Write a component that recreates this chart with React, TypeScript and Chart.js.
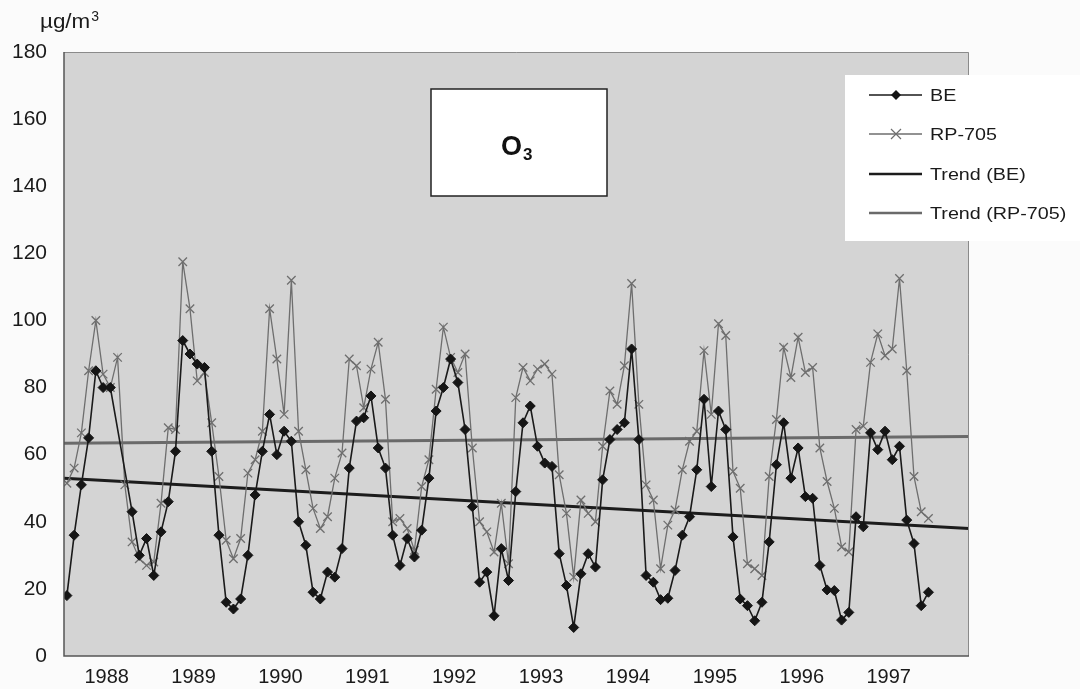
import React, { useEffect, useRef } from "react";
import { Chart, registerables } from "chart.js";

Chart.register(...registerables);

// ---- data ----
const yearLabels = ["1988", "1989", "1990", "1991", "1992", "1993", "1994", "1995", "1996", "1997"];

const beValues: (number | null)[] = [
  18, 36, 51, 65, 85, 80, 80, null, null, 43, 30, 35,
  24, 37, 46, 61, 94, 90, 87, 86, 61, 36, 16, 14,
  17, 30, 48, 61, 72, 60, 67, 64, 40, 33, 19, 17,
  25, 23.5, 32, 56, 70, 71, 77.5, 62, 56, 36, 27, 35,
  29.5, 37.5, 53, 73, 80, 88.5, 81.5, 67.5, 44.5, 22, 25, 12,
  32, 22.5, 49, 69.5, 74.5, 62.5, 57.5, 56.5, 30.5, 21, 8.5, 24.5,
  30.5, 26.5, 52.5, 64.5, 67.5, 69.5, 91.5, 64.5, 24, 22, 16.8, 17.2,
  25.5, 36, 41.5, 55.5, 76.5, 50.5, 73, 67.5, 35.5, 17, 15, 10.5,
  16, 34, 57, 69.5, 53, 62, 47.5, 47, 27, 19.7, 19.5, 10.7,
  13, 41.5, 38.5, 66.5, 61.5, 67, 58.5, 62.5, 40.5, 33.5, 15, 19,
];

const rpValues: number[] = [
  51.5, 56, 66.5, 85, 100, 84, 80, 89, 51, 34, 29, 27,
  28, 45.5, 68, 67.5, 117.5, 103.5, 82, 84.5, 69.5, 53.5, 34.5, 29,
  35, 54.5, 58.5, 67, 103.5, 88.5, 72, 112, 67, 55.5, 44, 38,
  41.5, 53, 60.5, 88.5, 86.5, 74, 85.5, 93.5, 76.5, 40, 41, 38,
  31.5, 50.5, 58.5, 79.5, 98, 89, 84.5, 90, 62, 40, 37, 31,
  45.5, 27.5, 77, 86, 82, 85.5, 87, 84, 54, 42.5, 23.5, 46.5,
  42.5, 40, 62.5, 79, 75, 86.5, 111, 75, 51, 46.5, 26, 39,
  43.5, 55.5, 64, 67, 91, 72, 99, 95.5, 55, 50, 27.5, 26,
  24, 53.5, 70.5, 92, 83, 95, 84.5, 86, 62, 52, 44, 32.5,
  31, 67.5, 68.5, 87.5, 96, 89.5, 91.5, 112.5, 85, 53.5, 43, 41,
];

// trend line end values (left edge, right edge of plot)
const trendBE = [53, 38];
const trendRP = [63.4, 65.4];

const X_MIN = -0.4;
const X_MAX = 124.6;

const FONT = "'Liberation Sans', Arial, Helvetica, sans-serif";

function drawDiamond(ctx: CanvasRenderingContext2D, x: number, y: number, r: number, color: string) {
  ctx.beginPath();
  ctx.moveTo(x, y - r);
  ctx.lineTo(x + r, y);
  ctx.lineTo(x, y + r);
  ctx.lineTo(x - r, y);
  ctx.closePath();
  ctx.fillStyle = color;
  ctx.fill();
}

function drawCross(ctx: CanvasRenderingContext2D, x: number, y: number, r: number, color: string, w: number) {
  ctx.beginPath();
  ctx.moveTo(x - r, y - r);
  ctx.lineTo(x + r, y + r);
  ctx.moveTo(x + r, y - r);
  ctx.lineTo(x - r, y + r);
  ctx.strokeStyle = color;
  ctx.lineWidth = w;
  ctx.stroke();
}

function scaledText(ctx: CanvasRenderingContext2D, text: string, x: number, y: number, sx: number) {
  ctx.save();
  ctx.translate(x, y);
  ctx.scale(sx, 1);
  ctx.fillText(text, 0, 0);
  ctx.restore();
}

const decorPlugin = {
  id: "decor",
  beforeDraw(chart: any) {
    const { ctx, chartArea: a } = chart;
    ctx.save();
    ctx.fillStyle = "#fbfbfb";
    ctx.fillRect(0, 0, chart.width, chart.height);
    ctx.fillStyle = "#d4d4d4";
    ctx.fillRect(a.left, a.top, a.right - a.left, a.bottom - a.top);
    ctx.restore();
  },
  afterDraw(chart: any) {
    const { ctx, chartArea: a } = chart;
    ctx.save();
    // plot frame
    ctx.strokeStyle = "#8a8a8a";
    ctx.lineWidth = 1;
    ctx.beginPath();
    ctx.moveTo(a.left, a.top + 0.5);
    ctx.lineTo(a.right - 0.5, a.top + 0.5);
    ctx.lineTo(a.right - 0.5, a.bottom);
    ctx.stroke();
    ctx.strokeStyle = "#555";
    ctx.lineWidth = 1.5;
    ctx.beginPath();
    ctx.moveTo(a.left, a.top);
    ctx.lineTo(a.left, a.bottom);
    ctx.lineTo(a.right, a.bottom);
    ctx.stroke();

    // unit label
    ctx.fillStyle = "#1a1a1a";
    ctx.textBaseline = "alphabetic";
    ctx.textAlign = "left";
    ctx.font = `20px ${FONT}`;
    scaledText(ctx, "µg/m", 40, 28, 1.12);
    const w = ctx.measureText("µg/m").width * 1.12;
    ctx.font = `14px ${FONT}`;
    ctx.fillText("3", 40 + w + 1, 21);

    // O3 box
    ctx.fillStyle = "#ffffff";
    ctx.fillRect(431, 89, 176, 107);
    ctx.strokeStyle = "#222";
    ctx.lineWidth = 1.5;
    ctx.strokeRect(431, 89, 176, 107);
    ctx.fillStyle = "#111";
    ctx.font = `bold 27px ${FONT}`;
    ctx.fillText("O", 501, 155);
    const ow = ctx.measureText("O").width;
    ctx.font = `bold 17px ${FONT}`;
    ctx.fillText("3", 501 + ow + 1, 160);

    // legend
    ctx.fillStyle = "#ffffff";
    ctx.fillRect(845, 75, 235, 166);
    const ds = chart.data.datasets;
    const rows = [95, 134, 174, 213];
    ds.forEach((d: any, i: number) => {
      const y = rows[i];
      ctx.strokeStyle = d.borderColor;
      ctx.lineWidth = i < 2 ? d.borderWidth : 2.5;
      ctx.beginPath();
      ctx.moveTo(869, y);
      ctx.lineTo(922, y);
      ctx.stroke();
      if (d.pointStyle === "rectRot") drawDiamond(ctx, 896, y, 5, d.pointBackgroundColor);
      if (d.pointStyle === "crossRot") drawCross(ctx, 896, y, 5, d.pointBorderColor, 1.2);
      ctx.fillStyle = "#1a1a1a";
      ctx.font = `17px ${FONT}`;
      ctx.textBaseline = "middle";
      scaledText(ctx, d.label, 930, y + 1, 1.16);
    });
    ctx.restore();
  },
};

export default function App() {
  const canvasRef = useRef<HTMLCanvasElement | null>(null);

  useEffect(() => {
    document.body.style.margin = "0";
    const canvas = canvasRef.current;
    if (!canvas) return;

    const bePts = beValues.map((v, i) => ({ x: i, y: v }));
    const rpPts = rpValues.map((v, i) => ({ x: i, y: v }));
    const tBE = [{ x: X_MIN, y: trendBE[0] }, { x: X_MAX, y: trendBE[1] }];
    const tRP = [{ x: X_MIN, y: trendRP[0] }, { x: X_MAX, y: trendRP[1] }];

    const chart = new Chart(canvas, {
      type: "line",
      data: {
        datasets: [
          {
            label: "BE",
            data: bePts as any,
            borderColor: "#1a1a1a",
            borderWidth: 1.6,
            pointStyle: "rectRot",
            pointRadius: 5,
            pointBackgroundColor: "#151515",
            pointBorderColor: "#151515",
            pointBorderWidth: 1,
            spanGaps: true,
            tension: 0,
          },
          {
            label: "RP-705",
            data: rpPts as any,
            borderColor: "#6e6e6e",
            borderWidth: 1.3,
            pointStyle: "crossRot",
            pointRadius: 6,
            pointBackgroundColor: "#6e6e6e",
            pointBorderColor: "#6e6e6e",
            pointBorderWidth: 1.3,
            tension: 0,
          },
          {
            label: "Trend (BE)",
            data: tBE as any,
            borderColor: "#1c1c1c",
            borderWidth: 3,
            pointRadius: 0,
            tension: 0,
          },
          {
            label: "Trend (RP-705)",
            data: tRP as any,
            borderColor: "#6a6a6a",
            borderWidth: 3,
            pointRadius: 0,
            tension: 0,
          },
        ],
      },
      options: {
        animation: false,
        responsive: false,
        maintainAspectRatio: false,
        layout: { padding: { top: 52, right: 111, left: 0, bottom: 0 } },
        plugins: {
          legend: { display: false },
          tooltip: { enabled: false },
          title: { display: false },
        },
        scales: {
          x: {
            type: "linear",
            min: X_MIN,
            max: X_MAX,
            grid: { display: false, drawTicks: false },
            border: { display: false },
            afterFit: (s: any) => {
              s.height = 33;
            },
            afterBuildTicks: (s: any) => {
              s.ticks = yearLabels.map((_, k) => ({ value: 5.5 + 12 * k }));
            },
            ticks: {
              autoSkip: false,
              maxRotation: 0,
              padding: 9,
              color: "#1a1a1a",
              font: { family: FONT, size: 20 },
              callback: (v: any) => yearLabels[Math.round((Number(v) - 5.5) / 12)] ?? "",
            },
          },
          y: {
            type: "linear",
            min: 0,
            max: 180,
            grid: { display: false, drawTicks: false },
            border: { display: false },
            afterFit: (s: any) => {
              s.width = 64;
            },
            ticks: {
              stepSize: 20,
              padding: 17,
              color: "#1a1a1a",
              font: { family: FONT, size: 21 },
            },
          },
        },
      },
      plugins: [decorPlugin],
    });

    return () => chart.destroy();
  }, []);

  return (
    <div style={{ width: 1080, height: 689 }}>
      <canvas ref={canvasRef} width={1080} height={689} style={{ display: "block" }} />
    </div>
  );
}
